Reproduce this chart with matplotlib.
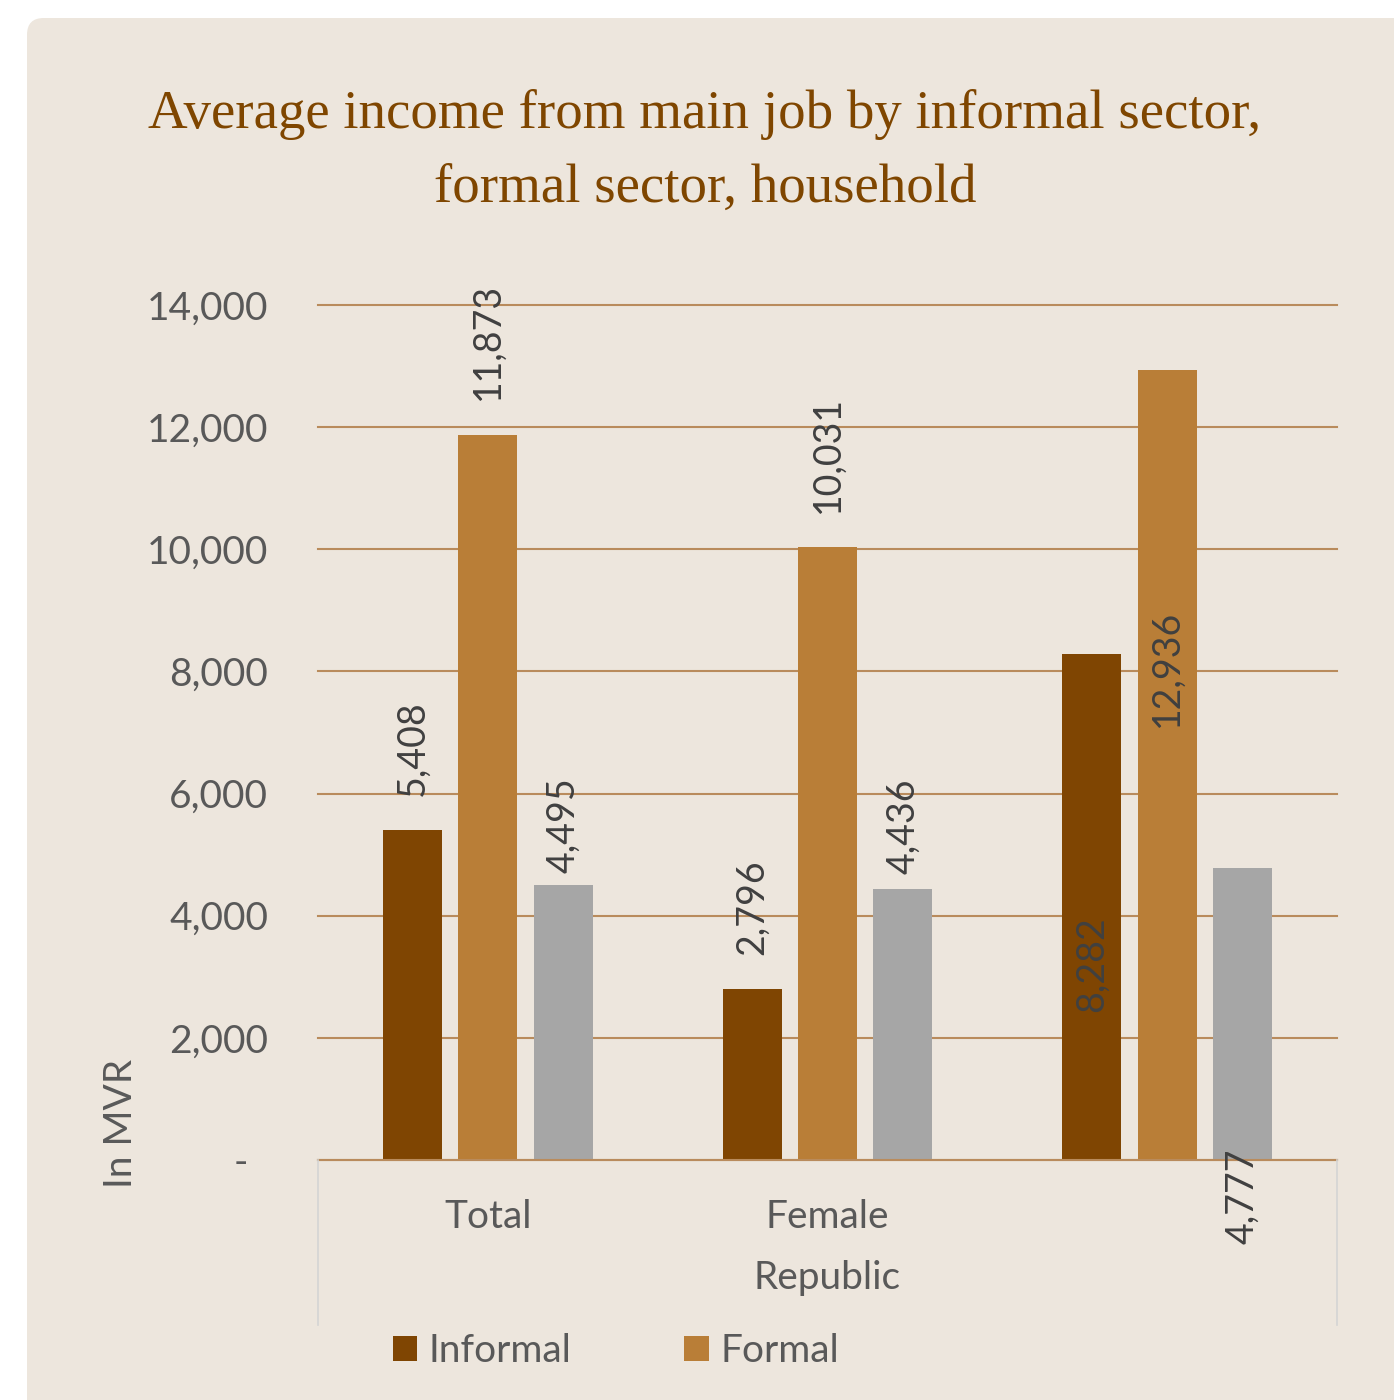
import matplotlib
matplotlib.use("Agg")
import matplotlib.pyplot as plt
from matplotlib.patches import FancyBboxPatch
from matplotlib.ticker import FuncFormatter

# ---- data ----
categories = ["Total", "Female", ""]
group_label = "Republic"
series_names = ["Informal", "Formal", "Household"]
informal = [5408, 2796, 8282]
formal = [11873, 10031, 12936]
household = [4495, 4436, 4777]
y_ticks = [0, 2000, 4000, 6000, 8000, 10000, 12000, 14000]

# ---- style ----
W, H = 1394, 1400
BG = "#ede6dd"
GRID = "#b98b5c"
COLORS = ["#7f4502", "#b97e37", "#a6a6a6"]
TITLE_C = "#7f4600"
TICK_C = "#595959"
LABEL_C = "#404040"
FONT = "Lato"
FS = 28
offsets = [-0.222, 0.0, 0.222]
bar_w = 0.174
# vertical distance (px) from bar top to the centre of each value label
label_dy = [
    [82, 82, -310],
    [93, 93, -298],
    [60, 63, -328],
]


def fx(x):
    return x / W


def fy(y):
    return 1 - y / H


fig = plt.figure(figsize=(W / 100, H / 100), dpi=100)
fig.patch.set_facecolor("white")

panel = FancyBboxPatch((fx(27), fy(1450)), fx(1450 - 27), (1450 - 18) / H,
                       boxstyle="round,pad=0,rounding_size=0.012",
                       transform=fig.transFigure, facecolor=BG,
                       edgecolor="none", zorder=-10)
fig.patches.append(panel)

fig.text(fx(705), fy(115), "Average income from main job by informal sector,",
         ha="center", va="center", color=TITLE_C, fontsize=39.5,
         family="Liberation Serif")
fig.text(fx(705), fy(189), "formal sector, household",
         ha="center", va="center", color=TITLE_C, fontsize=39.5,
         family="Liberation Serif")

ax = fig.add_axes([fx(318), fy(1160), (1337 - 318) / W, (1160 - 305) / H])
ax.set_facecolor("none")
ax.set_xlim(-0.5, len(categories) - 0.5)
ax.set_ylim(0, 14000)

series = [informal, formal, household]
for s, (vals, name, col, off) in enumerate(zip(series, series_names, COLORS, offsets)):
    xs = [i + off for i in range(len(vals))]
    ax.bar(xs, vals, width=bar_w, color=col, label=name, zorder=3)
    for i, v in enumerate(vals):
        ax.annotate(f"{v:,}", xy=(xs[i], v), xytext=(0, label_dy[s][i] * 0.72),
                    textcoords="offset points", ha="center", va="center",
                    rotation=90, fontsize=27, color=LABEL_C, family=FONT,
                    annotation_clip=False, zorder=5)

ax.set_yticks(y_ticks)
ax.yaxis.set_major_formatter(FuncFormatter(lambda v, p: "-  " if v == 0 else f"{int(v):,}"))
ax.grid(axis="y", color=GRID, linewidth=1.5, zorder=1)
for gl in ax.get_ygridlines():
    gl.set_clip_on(False)
ax.tick_params(axis="y", length=0, pad=36, labelsize=FS, labelcolor=TICK_C)
for lab in ax.get_yticklabels():
    lab.set_family(FONT)

ax.set_xticks(range(len(categories)))
ax.set_xticklabels(categories, family=FONT)
ax.tick_params(axis="x", length=0, pad=28, labelsize=FS, labelcolor=TICK_C)

for side in ["left", "right", "top"]:
    ax.spines[side].set_visible(False)
ax.spines["bottom"].set_color(GRID)
ax.spines["bottom"].set_linewidth(1.5)
ax.spines["bottom"].set_zorder(4)

# multi-level category separators
for xpix in (318, 1337):
    fig.add_artist(plt.Line2D([fx(xpix), fx(xpix)], [fy(1160), fy(1325)],
                              transform=fig.transFigure, color="#d4d4d4",
                              linewidth=1.2))
fig.text(fx(827), fy(1278), group_label, ha="center", va="center",
         fontsize=FS, color=TICK_C, family=FONT)

ax.set_ylabel("In MVR", fontsize=FS, color=TICK_C, family=FONT)
ax.yaxis.set_label_coords((139 - 318) / 1019, (1160 - 1123) / 855)

handles, labels = ax.get_legend_handles_labels()
leg = fig.legend(handles[:2], labels[:2], loc="center left",
                 bbox_to_anchor=(fx(393), fy(1351)), ncol=2, frameon=False,
                 prop={"family": FONT, "size": FS}, handlelength=0.62,
                 handleheight=0.62, handletextpad=0.3, columnspacing=2.9,
                 borderpad=0, borderaxespad=0)
for t in leg.get_texts():
    t.set_color(TICK_C)

fig.savefig("out.png", dpi=100, facecolor="white")
